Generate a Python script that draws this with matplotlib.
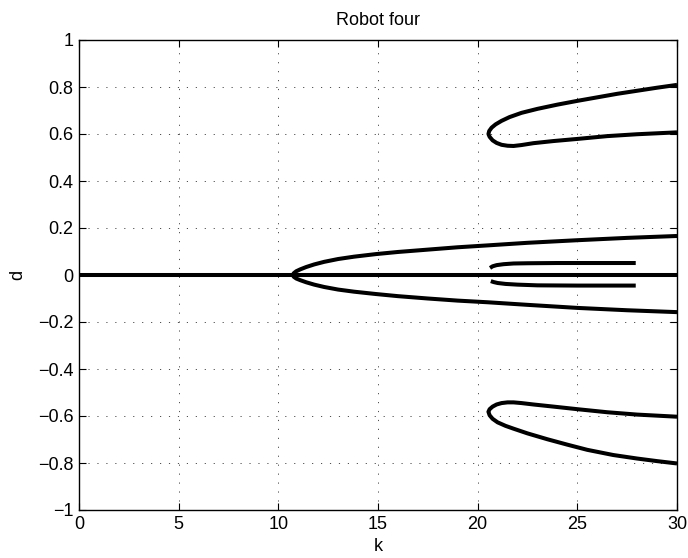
import matplotlib
matplotlib.use("Agg")
import matplotlib.pyplot as plt

# ---- data ----
# trivial branch d = 0
k_zero = [0, 30]
d_zero = [0, 0]

# main pitchfork branches (bifurcating at k ~ 10.7)
k_main = [10.72, 10.78, 10.9, 11.1, 11.4, 11.8, 12.3, 13.0, 13.8, 14.9, 16.0, 17.5, 19.0, 20.5, 22.5, 25.0, 27.5, 30.0]
d_main_up = [0.0, 0.008, 0.016, 0.024, 0.034, 0.045, 0.056, 0.068, 0.078, 0.089, 0.098, 0.108, 0.118, 0.126, 0.137, 0.148, 0.158, 0.166]
d_main_lo = [0.0, -0.008, -0.015, -0.022, -0.031, -0.041, -0.051, -0.062, -0.071, -0.081, -0.090, -0.100, -0.109, -0.116, -0.127, -0.140, -0.150, -0.158]

# short inner branches near zero
k_small_up = [20.62, 20.75, 20.95, 21.3, 21.8, 22.5, 24.0, 26.0, 27.93]
d_small_up = [0.030, 0.037, 0.042, 0.046, 0.049, 0.050, 0.051, 0.051, 0.051]
k_small_lo = [20.66, 20.8, 21.0, 21.4, 22.0, 23.0, 25.0, 27.93]
d_small_lo = [-0.026, -0.030, -0.034, -0.038, -0.041, -0.044, -0.045, -0.045]

# upper fold (d ~ 0.6)
k_top_a = [30.0, 29.0, 28.0, 27.0, 26.0, 25.0, 24.0, 23.0, 22.2, 21.6, 21.2, 20.9, 20.7, 20.58, 20.54]
d_top_a = [0.809, 0.797, 0.784, 0.771, 0.756, 0.741, 0.725, 0.707, 0.690, 0.672, 0.656, 0.641, 0.627, 0.613, 0.600]
k_top_b = [20.6, 20.75, 20.95, 21.2, 21.5, 21.8, 22.2, 22.8, 23.8, 25.0, 26.5, 28.0, 30.0]
d_top_b = [0.588, 0.573, 0.562, 0.554, 0.550, 0.549, 0.553, 0.561, 0.570, 0.579, 0.591, 0.599, 0.607]

# lower fold (d ~ -0.6)
k_bot_a = [30.0, 28.0, 26.5, 25.0, 23.8, 22.8, 22.2, 21.8, 21.5, 21.2, 20.95, 20.75, 20.6, 20.54]
d_bot_a = [-0.603, -0.594, -0.584, -0.571, -0.560, -0.551, -0.545, -0.542, -0.542, -0.545, -0.551, -0.560, -0.571, -0.582]
k_bot_b = [20.6, 20.75, 21.0, 21.4, 21.8, 22.5, 23.5, 24.5, 25.5, 26.8, 28.0, 29.0, 30.0]
d_bot_b = [-0.597, -0.612, -0.627, -0.642, -0.654, -0.674, -0.699, -0.722, -0.744, -0.766, -0.781, -0.792, -0.802]

x_ticks = [0, 5, 10, 15, 20, 25, 30]
y_ticks = [-1, -0.8, -0.6, -0.4, -0.2, 0, 0.2, 0.4, 0.6, 0.8, 1]
y_tick_labels = ["\u22121", "\u22120.8", "\u22120.6", "\u22120.4", "\u22120.2", "0", "0.2", "0.4", "0.6", "0.8", "1"]

plt.rcParams['font.family'] = ['Liberation Sans', 'DejaVu Sans']

fig = plt.figure(figsize=(6.88, 5.58), dpi=100)
ax = fig.add_axes([79/688, 1 - 510/558, (677 - 79)/688, (510 - 40)/558])

lw = 2.9
kw = dict(color='k', lw=lw, solid_capstyle='butt', solid_joinstyle='round')
ax.plot(k_zero, d_zero, **kw)
ax.plot(k_main, d_main_up, **kw)
ax.plot(k_main, d_main_lo, **kw)
ax.plot(k_small_up, d_small_up, **kw)
ax.plot(k_small_lo, d_small_lo, **kw)
ax.plot(k_top_a + k_top_b, d_top_a + d_top_b, **kw)
ax.plot(k_bot_a + k_bot_b, d_bot_a + d_bot_b, **kw)

ax.set_xlim(0, 30)
ax.set_ylim(-1, 1)
ax.set_xticks(x_ticks)
ax.set_yticks(y_ticks)
ax.set_yticklabels(y_tick_labels)
ax.tick_params(direction='in', top=True, right=True, labelsize=13, length=5, width=0.8, pad=4)
ax.grid(True, color='0.3', linestyle=(0, (1.2, 8)), linewidth=0.7)
for s in ax.spines.values():
    s.set_linewidth(1.0)

ax.set_title("Robot four", fontsize=13, pad=11)
ax.set_xlabel("k", fontsize=13, labelpad=4)
ax.set_ylabel("d", fontsize=13, labelpad=8)

fig.savefig("out.png", dpi=100)
